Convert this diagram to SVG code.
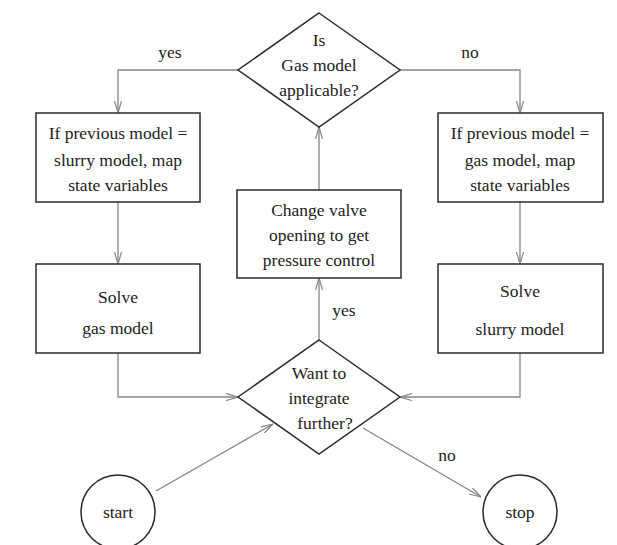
<svg xmlns="http://www.w3.org/2000/svg" width="617" height="545" viewBox="0 0 617 545">
<style>
.shape{fill:#fff;stroke:#2a2a2a;stroke-width:1.5}
.conn{fill:none;stroke:#858585;stroke-width:1.3}
text{font-family:"Liberation Serif","Times New Roman",serif;font-size:17.5px;fill:#222;text-anchor:middle}
</style>
<defs>
<marker id="arr" viewBox="0 0 12 8" refX="12" refY="4" markerWidth="12" markerHeight="8" markerUnits="userSpaceOnUse" orient="auto">
<path d="M0,0.5 L12,4 L0,7.5" fill="none" stroke="#858585" stroke-width="1.2"/>
</marker>
</defs>
<rect width="617" height="545" fill="#fff"/>
<g id="connectors">
<path class="conn" d="M238,70 H118 V113" marker-end="url(#arr)"/>
<path class="conn" d="M400,70 H520 V113" marker-end="url(#arr)"/>
<path class="conn" d="M118,202 V264" marker-end="url(#arr)"/>
<path class="conn" d="M520,202 V264" marker-end="url(#arr)"/>
<path class="conn" d="M118,353 V397 H238" marker-end="url(#arr)"/>
<path class="conn" d="M520,353 V397 H400" marker-end="url(#arr)"/>
<path class="conn" d="M319,190 V127" marker-end="url(#arr)"/>
<path class="conn" d="M319,340 V278" marker-end="url(#arr)"/>
<path class="conn" d="M156,491 L273,424" marker-end="url(#arr)"/>
<path class="conn" d="M363,428 L481,497" marker-end="url(#arr)"/>
<text x="170" y="58">yes</text>
<text x="470" y="58">no</text>
<text x="344" y="316">yes</text>
<text x="447" y="461">no</text>
</g>
<g id="decision-gas">
<polygon class="shape" points="319,13 400,70 319,127 238,70"/>
<text x="319" y="46">Is</text>
<text x="319" y="71">Gas model</text>
<text x="319" y="96">applicable?</text>
</g>
<g id="map-slurry">
<rect class="shape" x="36" y="113" width="164" height="89"/>
<text x="118" y="139">If previous model =</text>
<text x="118" y="166">slurry model, map</text>
<text x="118" y="191">state variables</text>
</g>
<g id="map-gas">
<rect class="shape" x="438" y="113" width="165" height="89"/>
<text x="520" y="139">If previous model =</text>
<text x="520" y="166">gas model, map</text>
<text x="520" y="191">state variables</text>
</g>
<g id="solve-gas">
<rect class="shape" x="36" y="264" width="164" height="89"/>
<text x="118" y="303">Solve</text>
<text x="118" y="334">gas model</text>
</g>
<g id="solve-slurry">
<rect class="shape" x="438" y="264" width="165" height="89"/>
<text x="520" y="297">Solve</text>
<text x="520" y="335">slurry model</text>
</g>
<g id="change-valve">
<rect class="shape" x="237" y="190" width="164" height="88"/>
<text x="319" y="216">Change valve</text>
<text x="319" y="241">opening to get</text>
<text x="319" y="266">pressure control</text>
</g>
<g id="decision-integrate">
<polygon class="shape" points="319,340 400,397 319,454 238,397"/>
<text x="319" y="379">Want to</text>
<text x="319" y="404">integrate</text>
<text x="325" y="429">further?</text>
</g>
<g id="start">
<circle class="shape" cx="118" cy="512" r="37"/>
<text x="118" y="518">start</text>
</g>
<g id="stop">
<circle class="shape" cx="520" cy="512" r="37"/>
<text x="520" y="518">stop</text>
</g>
</svg>
